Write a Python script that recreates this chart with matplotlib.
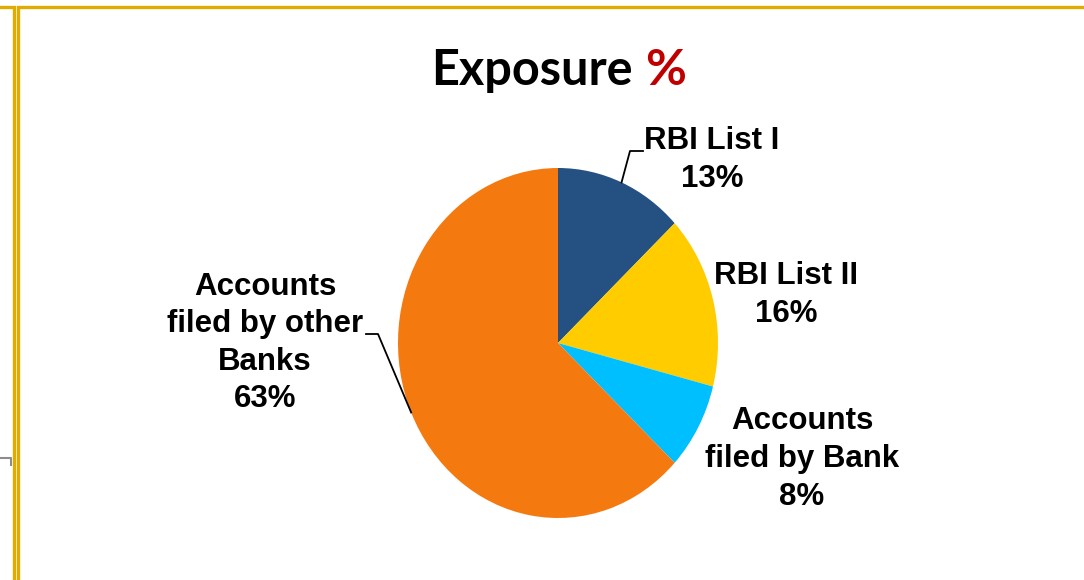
import numpy as np
import matplotlib.pyplot as plt
from matplotlib.lines import Line2D

labels = ["RBI List I", "RBI List II", "Accounts\nfiled by Bank", "Accounts\nfiled by other\nBanks"]
values = [13, 16, 8, 63]
colors = ["#245082", "#FFCC00", "#00BFFF", "#F47A10"]

W, H = 1084, 580
cx, cy, rx, ry = 558, 343, 160, 175


def to_data(px, py):
    return (px - cx) / rx, (cy - py) / ry


fig = plt.figure(figsize=(W / 100, H / 100), dpi=100)
ax = fig.add_axes([0, 0, 1, 1])
wedges, _ = ax.pie(values, colors=colors, startangle=90, counterclock=False,
                   radius=1, center=(0, 0), wedgeprops=dict(linewidth=0))
ax.set_aspect('auto')
ax.set_xlim(*[(p - cx) / rx for p in (0, W)])
ax.set_ylim((cy - H) / ry, cy / ry)
ax.axis('off')

font = dict(family=['Liberation Sans', 'DejaVu Sans'], fontsize=22.5,
            fontweight='bold', ha='center', va='center', linespacing=1.33)

# label centres (pixels) and elbow of leader line (None = no leader)
label_px = [(712, 160), (786, 295), (802, 459), (265, 343)]
elbows = [((630, 151), (643, 151)), None, None, ((378, 334), (366, 334))]

for w, lab, v, pos, elb in zip(wedges, labels, values, label_px, elbows):
    ax.text(*to_data(*pos), f"{lab}\n{v}%", **font)
    if elb is not None:
        mid = np.deg2rad((w.theta1 + w.theta2) / 2)
        pts = [(np.cos(mid), np.sin(mid))] + [to_data(*p) for p in elb]
        xs, ys = zip(*pts)
        ax.plot(xs, ys, color='black', lw=1.3, clip_on=False)

# title
fig.text(633 / W, 1 - 85 / H, "Exposure", family=['Lato', 'DejaVu Sans'],
         fontsize=35, fontweight='bold', ha='right', va='baseline')
fig.text(645 / W, 1 - 85 / H, "%", family=['Lato', 'DejaVu Sans'],
         fontsize=36, fontweight='bold', ha='left', va='baseline', color='#C00000')

# slide frame lines
gold = '#E0AC00'
for xs, ys in [([0, 14, 14], [7, 7, H]), ([18, 18, W], [H, 7, 7])]:
    fig.add_artist(Line2D([x / W for x in xs], [1 - y / H for y in ys],
                          color=gold, lw=2.4, solid_joinstyle='miter'))
fig.add_artist(Line2D([0, 11 / W, 11 / W], [1 - 458 / H, 1 - 458 / H, 1 - 465 / H],
                      color='#8C8C8C', lw=1.5))

fig.savefig('out.png', dpi=100)
